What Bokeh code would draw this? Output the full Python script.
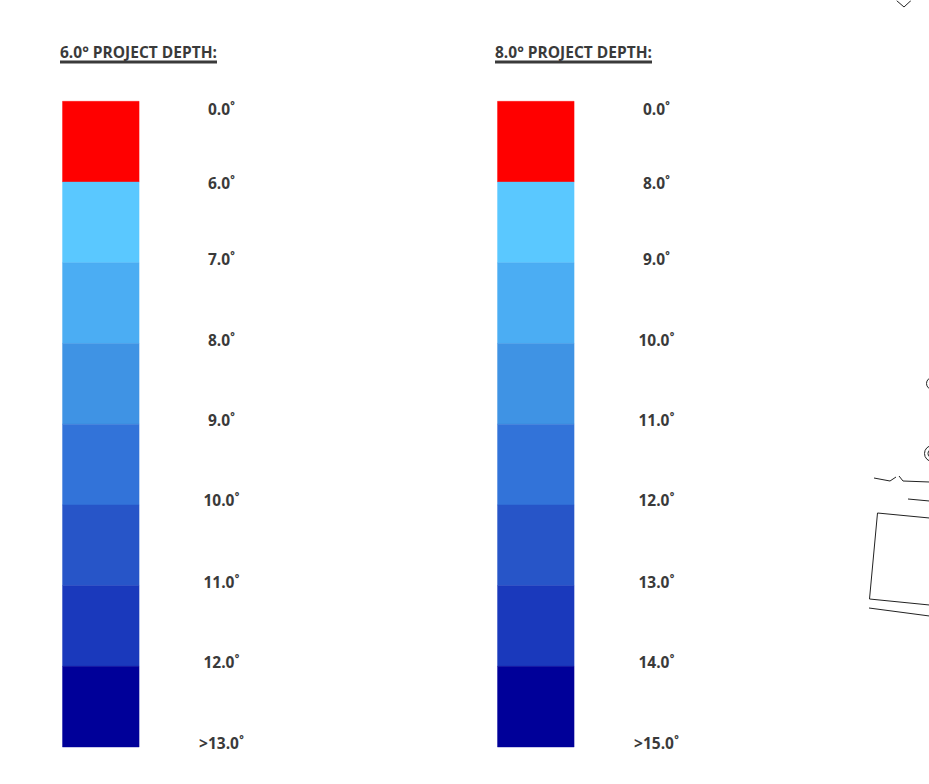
from bokeh.plotting import figure
from bokeh.models import Range1d
from bokeh.core.properties import value
from bokeh.embed import file_html
from bokeh.resources import INLINE

band_colors = ["#FF0000", "#5AC8FF", "#4BADF3", "#3F93E4", "#3273D9", "#2755C8", "#1A39BC", "#000099"]
left_title = "6.0\u00b0 PROJECT DEPTH:"
right_title = "8.0\u00b0 PROJECT DEPTH:"
left_labels = ["0.0\u02da", "6.0\u02da", "7.0\u02da", "8.0\u02da", "9.0\u02da", "10.0\u02da", "11.0\u02da", "12.0\u02da", ">13.0\u02da"]
right_labels = ["0.0\u02da", "8.0\u02da", "9.0\u02da", "10.0\u02da", "11.0\u02da", "12.0\u02da", "13.0\u02da", "14.0\u02da", ">15.0\u02da"]

INK = "#3A3A3A"
FONT = value("Open Sans")
BAND = 80.72
TOP = 100.8
W, H = 929, 784
label_y = [108.6, 182.6, 258.6, 339.6, 419.6, 499.6, 581.6, 661.6, 742.6]

p = figure(width=W, height=H, output_backend="svg", toolbar_location=None,
           x_range=Range1d(0, W),
           y_range=Range1d((H - TOP) / BAND, (0 - TOP) / BAND),
           min_border=0, outline_line_color=None, background_fill_color="white")
p.axis.visible = False
p.grid.visible = False
p.extra_y_ranges = {"px": Range1d(H, 0)}


def column(x0, title, labels, title_x, label_x):
    rows = list(range(len(band_colors)))
    p.quad(left=x0, right=x0 + 76.6, top=rows, bottom=[r + 1 for r in rows],
           fill_color=band_colors, line_color=band_colors, line_width=0.4)
    p.text([label_x] * len(labels), label_y, text=labels, y_range_name="px",
           text_font=FONT, text_font_style="bold", text_font_size="15.5px",
           text_color=INK, text_align="center", text_baseline="middle")
    p.text([title_x], [51], text=[title], y_range_name="px",
           text_font=FONT, text_font_style="bold", text_font_size="15.5px",
           text_color=INK, text_align="left", text_baseline="middle")
    p.line([title_x, title_x + 157], [61.5, 61.5], y_range_name="px",
           line_color=INK, line_width=3)


column(62, left_title, left_labels, 59.5, 221)
column(497, right_title, right_labels, 494.5, 656)

sketch_lines = [
    ([896, 903.5, 910.5], [0, 6.5, 0]),
    ([873.5, 889.5, 895.5], [477.5, 480.5, 476.5]),
    ([898.5, 902.5, 929], [475.5, 480.5, 481.5]),
    ([907.5, 929], [498.5, 500.5]),
    ([929, 877, 869, 929], [517.5, 512.5, 598.5, 604.5]),
    ([868.5, 929], [607.5, 615.5]),
]
for xs, ys in sketch_lines:
    p.line(xs, ys, y_range_name="px", line_color="#222222", line_width=1)

p.scatter([932, 932, 932], [383, 453, 453], size=[12, 16, 9], marker="circle",
          y_range_name="px", fill_color=None, line_color="#222222", line_width=1)

open("out.html", "w").write(file_html(p, INLINE))
